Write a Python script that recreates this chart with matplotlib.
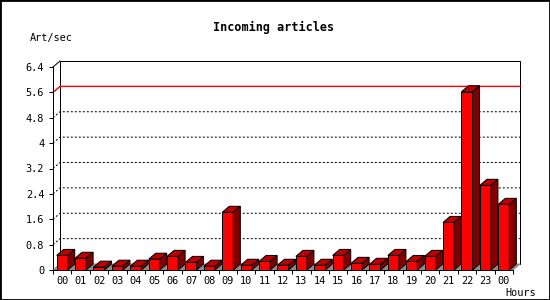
import numpy as np
import matplotlib
matplotlib.use("Agg")
import matplotlib.pyplot as plt
from matplotlib.patches import Polygon, Rectangle

plt.rcParams['font.family'] = ['DejaVu Sans Mono']

hours = ["00", "01", "02", "03", "04", "05", "06", "07", "08", "09", "10", "11",
         "12", "13", "14", "15", "16", "17", "18", "19", "20", "21", "22", "23", "00"]
rate = [0.46, 0.37, 0.09, 0.12, 0.12, 0.34, 0.43, 0.24, 0.12, 1.82, 0.15, 0.27,
        0.15, 0.43, 0.15, 0.46, 0.21, 0.18, 0.46, 0.27, 0.43, 1.50, 5.62, 2.67, 2.07]
yticks = [0, 0.8, 1.6, 2.4, 3.2, 4.0, 4.8, 5.6, 6.4]
max_line = 5.6

W, H = 550, 300
px = 0.72  # one pixel in points
fig = plt.figure(figsize=(5.5, 3), dpi=100)
ax = fig.add_axes([53 / W, 30 / H, 460 / W, 203 / H])
n = len(rate)
ymax = 6.4
ax.set_xlim(0, n)
ax.set_ylim(0, ymax)
ax.patch.set_visible(False)

# depth of the fake 3d in data units (7 px right, 6 px up)
dx = 7 / 460 * n
dy = 6 / 203 * ymax

# back wall
ax.add_patch(Rectangle((dx, dy), n, ymax, facecolor="white", edgecolor="black",
                       lw=px, clip_on=False, zorder=0))
ax.plot([0, dx], [ymax, ymax + dy], color="black", lw=px, clip_on=False, zorder=1)
for v in yticks[1:-1]:
    if v == max_line:
        continue
    ax.plot([0, dx, n + dx], [v, v + dy, v + dy], color="black", lw=px,
            ls=(0, (2, 2)), clip_on=False, zorder=1)
ax.plot([0, dx, n + dx], [max_line, max_line + dy, max_line + dy], color="red",
        lw=1.0, clip_on=False, zorder=1)

# floor
ax.add_patch(Polygon([(0, 0), (n, 0), (n + dx, dy), (dx, dy)], closed=True,
                     facecolor="#8c8c8c", edgecolor="#8c8c8c", lw=px,
                     clip_on=False, zorder=2))

# bars
w = 0.6
for i, v in enumerate(rate):
    x0 = i + 0.2
    ax.bar(x0, v, width=w, align="edge", color="#ff0000", edgecolor="black",
           lw=px, clip_on=False, zorder=3)
    ax.add_patch(Polygon([(x0, v), (x0 + w, v), (x0 + w + dx, v + dy), (x0 + dx, v + dy)],
                         closed=True, facecolor="#c00000", edgecolor="black",
                         lw=px, clip_on=False, zorder=3))
    ax.add_patch(Polygon([(x0 + w, 0), (x0 + w + dx, dy), (x0 + w + dx, v + dy), (x0 + w, v)],
                         closed=True, facecolor="#800000", edgecolor="black",
                         lw=px, clip_on=False, zorder=3))

# axes
for s in ["top", "right"]:
    ax.spines[s].set_visible(False)
for s in ["left", "bottom"]:
    ax.spines[s].set_linewidth(px)
    ax.spines[s].set_zorder(4)
ax.set_yticks(yticks, ["%g" % t for t in yticks])
ax.tick_params(axis="y", length=4 * px, width=px, pad=3.5, labelsize=7.4)
ax.set_xticks(np.arange(n) + 0.5, hours)
ax.set_xticks(np.arange(n + 1), minor=True)
ax.tick_params(axis="x", which="major", length=0, pad=4, labelsize=7.4)
ax.tick_params(axis="x", which="minor", length=4 * px, width=px)

fig.text(274 / W, 1 - 27 / H, "Incoming articles", ha="center", va="center",
         fontsize=8.5, fontweight="bold")
fig.text(30 / W, 1 - 37.5 / H, "Art/sec", ha="left", va="center", fontsize=7.4)
fig.text(505 / W, 1 - 292.5 / H, "Hours", ha="left", va="center", fontsize=7.4)
fig.add_artist(Rectangle((0, 0), 1, 1, transform=fig.transFigure, fill=False,
                         edgecolor="black", lw=2))

fig.savefig("out.png", dpi=100)
